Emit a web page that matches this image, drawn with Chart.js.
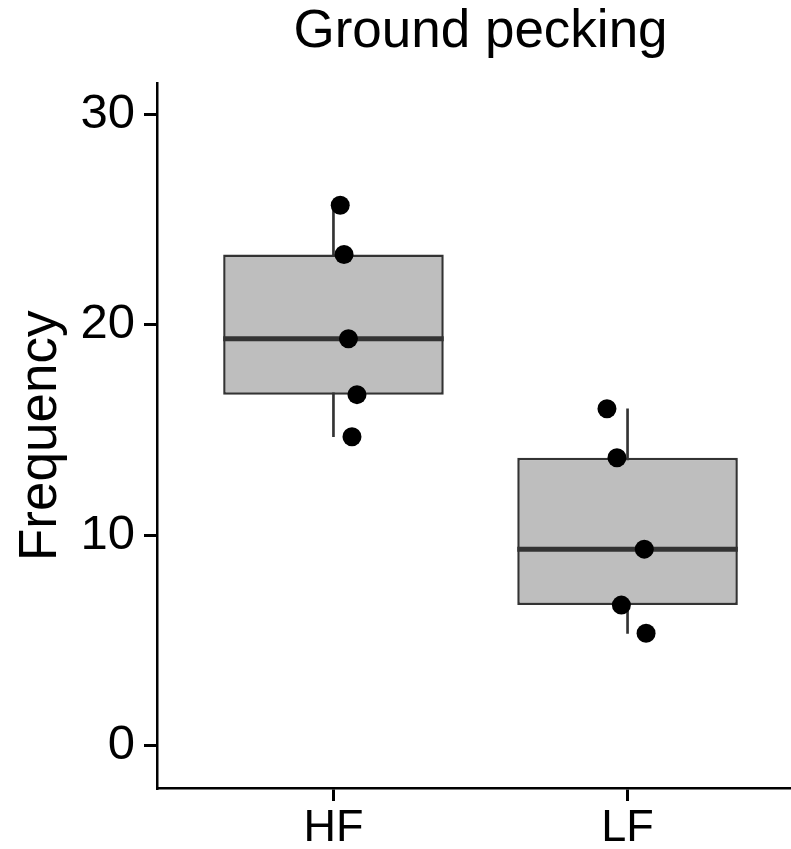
<!DOCTYPE html>
<html>
<head>
<meta charset="utf-8">
<title>Ground pecking</title>
<script src="https://cdn.jsdelivr.net/npm/chart.js@4/dist/chart.umd.min.js"></script>
<style>
    html, body { margin: 0; padding: 0; overflow: hidden; background: #fff; }
    #wrap { width: 805px; height: 849px; }
</style>
</head>
<body>
<div id="wrap"><canvas id="box-chart" width="805" height="849"></canvas></div>
<script>
// Data
const groups = ["HF", "LF"];
const groupPos = [1, 2];
const hfValues = [25.67, 23.33, 19.33, 16.67, 14.67];
const lfValues = [16.0, 13.67, 9.33, 6.67, 5.33];
// horizontal jitter of each point, in category units
const hfJitter = [0.023, 0.036, 0.051, 0.080, 0.063];
const lfJitter = [-0.070, -0.036, 0.057, -0.021, 0.063];
const yTicks = [0, 10, 20, 30];

const seriesValues = [hfValues, lfValues];
const seriesJitter = [hfJitter, lfJitter];

// type 7 quantile (same as R default)
function quantile(values, p) {
    const s = [...values].sort((a, b) => a - b);
    const h = (s.length - 1) * p;
    const lo = Math.floor(h);
    const hi = Math.min(lo + 1, s.length - 1);
    return s[lo] + (h - lo) * (s[hi] - s[lo]);
}

function boxStats(values) {
    const q1 = quantile(values, 0.25);
    const q3 = quantile(values, 0.75);
    const iqr = q3 - q1;
    const inside = values.filter(v => v >= q1 - 1.5 * iqr && v <= q3 + 1.5 * iqr);
    return {
        q1: q1,
        median: quantile(values, 0.5),
        q3: q3,
        low: Math.min(...inside),
        high: Math.max(...inside)
    };
}

const stats = seriesValues.map(boxStats);
const boxWidth = 0.75;
const dark = "#333333";

// Whiskers (thin floating bars behind the boxes)
const whiskers = {
    type: "bar",
    data: stats.map((s, i) => ({ x: groupPos[i], y: [s.low, s.high] })),
    backgroundColor: dark,
    barThickness: 2,
    grouped: false,
    order: 3
};

// Boxes q1..q3
const boxes = {
    type: "bar",
    data: stats.map((s, i) => ({ x: groupPos[i], y: [s.q1, s.q3] })),
    backgroundColor: "#bebebe",
    borderColor: dark,
    borderWidth: 2.5,
    borderSkipped: false,
    categoryPercentage: boxWidth,
    barPercentage: 1,
    grouped: false,
    order: 2
};

// Median lines
const medians = stats.map((s, i) => ({
    type: "line",
    data: [
        { x: groupPos[i] - boxWidth / 2, y: s.median },
        { x: groupPos[i] + boxWidth / 2, y: s.median }
    ],
    borderColor: dark,
    borderWidth: 5,
    borderCapStyle: "butt",
    pointRadius: 0,
    fill: false,
    order: 1
}));

// Jittered points
const points = {
    type: "scatter",
    data: seriesValues.flatMap((vals, i) =>
        vals.map((v, j) => ({ x: groupPos[i] + seriesJitter[i][j], y: v }))),
    backgroundColor: "#000",
    borderWidth: 0,
    pointRadius: 9.5,
    order: 0
};

const fontFamily = "'Liberation Sans', Arial, Helvetica, sans-serif";

new Chart(document.getElementById("box-chart"), {
    type: "bar",
    data: { datasets: [whiskers, boxes, ...medians, points] },
    options: {
        responsive: false,
        animation: false,
        events: [],
        devicePixelRatio: 1,
        layout: { autoPadding: false, padding: { left: 0, right: 1, top: 0, bottom: 0 } },
        plugins: {
            legend: { display: false },
            tooltip: { enabled: false },
            title: {
                display: true,
                text: "Ground pecking",
                fullSize: false,
                color: "#000",
                font: { family: fontFamily, size: 53, weight: "normal" },
                padding: { top: 1, bottom: 19 }
            }
        },
        scales: {
            x: {
                type: "linear",
                min: 0.4,
                max: 2.6,
                offset: false,
                afterBuildTicks: scale => { scale.ticks = groupPos.map(v => ({ value: v })); },
                afterFit: scale => {
                    scale.height = 61;
                    scale.paddingLeft = 0;
                    scale.paddingRight = 0;
                },
                ticks: {
                    callback: (value, index) => groups[index],
                    color: "#000",
                    font: { family: fontFamily, size: 45 },
                    padding: 1,
                    maxRotation: 0,
                    autoSkip: false
                },
                grid: { offset: false, drawOnChartArea: false, drawTicks: true, tickLength: 13, lineWidth: 3, color: "#000" },
                border: { display: true, color: "#000", width: 2.5 }
            },
            y: {
                min: -2.02,
                max: 31.45,
                afterBuildTicks: scale => { scale.ticks = yTicks.map(v => ({ value: v })); },
                afterFit: scale => {
                    scale.width = 157;
                    scale.paddingTop = 0;
                    scale.paddingBottom = 0;
                },
                ticks: {
                    color: "#000",
                    font: { family: fontFamily, size: 49 },
                    padding: 9
                },
                grid: { drawOnChartArea: false, drawTicks: true, tickLength: 13, lineWidth: 3, color: "#000" },
                border: { display: true, color: "#000", width: 2.5 },
                title: {
                    display: true,
                    text: "Frequency",
                    color: "#000",
                    font: { family: fontFamily, size: 53 },
                    padding: { top: 10, bottom: 0 }
                }
            }
        }
    }
});
</script>
</body>
</html>
